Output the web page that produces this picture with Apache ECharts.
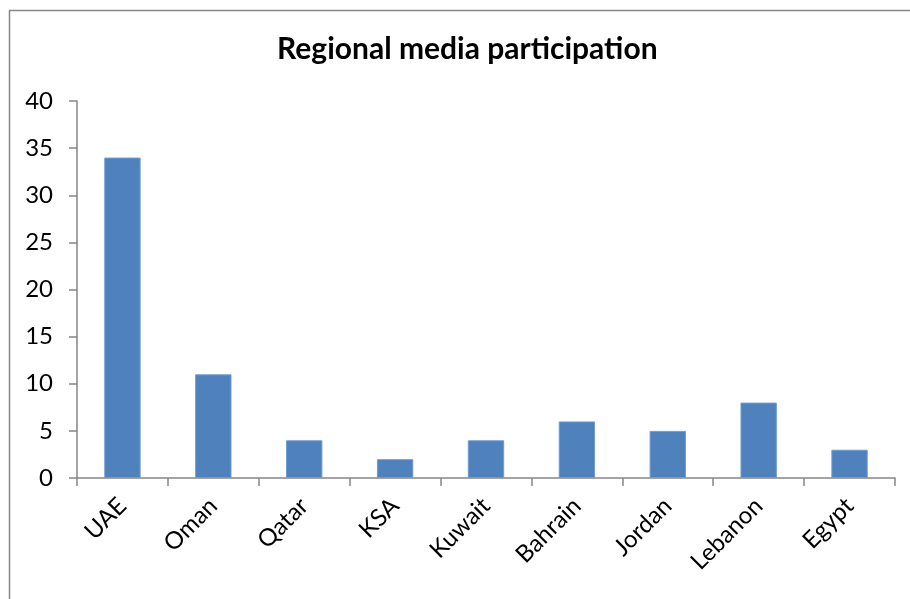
<!DOCTYPE html>
<html><head><meta charset="utf-8">
<script src="https://cdn.jsdelivr.net/npm/echarts@6/dist/echarts.min.js"></script>
<style>html,body{margin:0;padding:0;background:#fff}#c{width:910px;height:599px}</style>
</head><body><div id="c"></div>
<script>
var titleText = 'Regional media participation';
var categories = ['UAE','Oman','Qatar','KSA','Kuwait','Bahrain','Jordan','Lebanon','Egypt'];
var values = [34, 11, 4, 2, 4, 6, 5, 8, 3];
var yMin = 0, yMax = 40, yStep = 5;

var chart = echarts.init(document.getElementById('c'), null, {renderer: 'canvas'});
var font = 'Lato, "Open Sans", sans-serif';
chart.setOption({
  animation: false,
  backgroundColor: '#fff',
  graphic: [{
    type: 'rect', left: 7, top: 8,
    shape: {width: 940, height: 640},
    style: {fill: 'none', stroke: '#868686', lineWidth: 1.5},
    silent: true
  }],
  title: {
    text: titleText, left: 272, top: 29,
    textStyle: {fontFamily: font, fontWeight: 'bold', fontSize: 30, color: '#000'}
  },
  grid: {left: 77, right: 15, top: 101, bottom: 121, containLabel: false},
  xAxis: {
    type: 'category', data: categories,
    axisLine: {lineStyle: {color: '#868686', width: 1.5}},
    axisTick: {show: true, length: 8, alignWithLabel: false, lineStyle: {color: '#868686', width: 1.5}},
    axisLabel: {rotate: 45, margin: 24, fontFamily: font, fontSize: 24, color: '#000', interval: 0}
  },
  yAxis: {
    type: 'value', min: yMin, max: yMax, interval: yStep,
    splitLine: {show: false},
    axisLine: {show: true, lineStyle: {color: '#868686', width: 1.5}},
    axisTick: {show: true, length: 8, lineStyle: {color: '#868686', width: 1.5}},
    axisLabel: {margin: 24, fontFamily: font, fontSize: 24, color: '#000'}
  },
  series: [{
    type: 'bar', data: values, barWidth: '40%',
    itemStyle: {color: '#4F81BD', borderColor: '#6F9BD1', borderWidth: 1}
  }]
});
</script></body></html>
